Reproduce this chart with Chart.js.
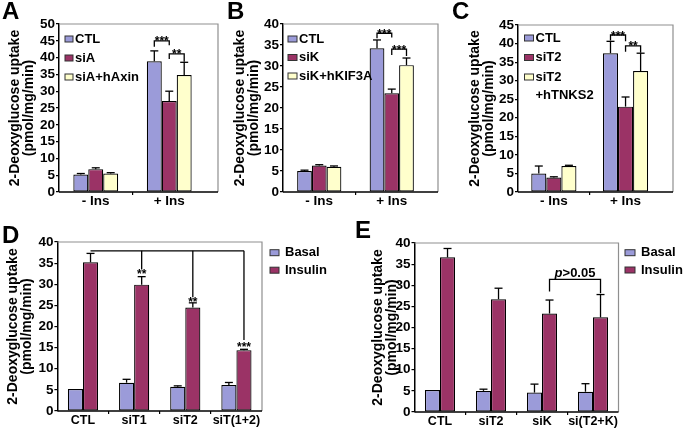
<!DOCTYPE html>
<html>
<head>
<meta charset="utf-8">
<script src="https://cdn.jsdelivr.net/npm/chart.js@4.4.0/dist/chart.umd.min.js"></script>
<style>
html, body { margin: 0; padding: 0; background: #fff; }
body { width: 685px; height: 428px; position: relative; overflow: hidden; }
canvas { position: absolute; }
</style>
</head>
<body>
<canvas id="cA" width="225" height="212" style="left:0;top:0"></canvas>
<canvas id="cB" width="225" height="212" style="left:225px;top:0"></canvas>
<canvas id="cC" width="235" height="212" style="left:450px;top:0"></canvas>
<canvas id="cD" width="340" height="216" style="left:0;top:212px"></canvas>
<canvas id="cE" width="345" height="216" style="left:340px;top:212px"></canvas>
<script>
// ---- data ----
const Y_TITLE = ['2-Deoxyglucose uptake', '(pmol/mg/min)'];
const INS_LABELS = ['- Ins', '+ Ins'];

// A
const A_ctl = [5.2, 38.9];   const A_ctl_err = [0.3, 3.1];
const A_siA = [6.8, 27.1];   const A_siA_err = [0.4, 2.9];
const A_res = [5.5, 34.8];   const A_res_err = [0.25, 3.8];
// [cat, dataset, cat, dataset, top, left end, right end, label]
const A_sig = [[1, 0, 1, 1, 45.0, 43.2, 43.7, '***'], [1, 1, 1, 2, 41.1, 39.6, 38.8, '**']];

// B
const B_ctl = [5.0, 34.2];   const B_ctl_err = [0.2, 2.0];
const B_siK = [6.3, 23.5];   const B_siK_err = [0.2, 1.0];
const B_res = [6.0, 30.2];   const B_res_err = [0.2, 1.7];
const B_sig = [[1, 0, 1, 1, 37.8, 36.6, 36.8, '***'], [1, 1, 1, 2, 34.0, 32.6, 32.4, '***']];

// C
const C_ctl = [5.0, 37.4];   const C_ctl_err = [2.0, 3.2];
const C_siT2 = [3.9, 23.0];  const C_siT2_err = [0.2, 2.6];
const C_res = [7.0, 32.6];   const C_res_err = [0.2, 4.8];
const C_sig = [[1, 0, 1, 1, 42.3, 40.8, 40.6, '***'], [1, 1, 1, 2, 39.4, 37.8, 37.5, '**']];

// D
const D_labels = ['CTL', 'siT1', 'siT2', 'siT(1+2)'];
const D_basal = [5.2, 6.7, 5.75, 6.15];    const D_basal_err = [0, 0.8, 0.2, 0.6];
const D_ins = [35.2, 29.9, 24.5, 14.4];    const D_ins_err = [2.1, 1.9, 1.1, 0.2];
const D_combTop = 37.9;
const D_combEnds = [33.5, 26.9, 16.8];
const D_stars = ['**', '**', '***'];
const D_starY = [32.9, 26.3, 15.7];

// E
const E_labels = ['CTL', 'siT2', 'siK', 'si(T2+K)'];
const E_basal = [5.2, 5.0, 4.6, 4.8];      const E_basal_err = [0, 0.4, 2.0, 1.9];
const E_ins = [36.6, 26.7, 23.3, 22.4];    const E_ins_err = [2.1, 2.6, 3.2, 5.4];
const E_sig = [[2, 1, 3, 1, 31.4, 28.5, 28.1, 'p>0.05']];

const BLUE = '#9b9bd9', RED = '#9b3366', YEL = '#ffffcc';
const FONT = "'Liberation Sans', Arial, Helvetica, sans-serif";

Chart.defaults.font.family = FONT;
Chart.defaults.color = '#000';

function seg(ctx, x1, y1, x2, y2) {
  ctx.beginPath(); ctx.moveTo(x1, y1); ctx.lineTo(x2, y2); ctx.stroke();
}

function sigText(ctx, txt, x, y) {
  ctx.fillStyle = '#000';
  ctx.textAlign = 'left';
  ctx.textBaseline = 'alphabetic';
  if (txt[0] === 'p') {
    ctx.font = 'italic bold 13px ' + FONT;
    const w1 = ctx.measureText('p').width;
    ctx.font = 'bold 13px ' + FONT;
    const w2 = ctx.measureText(txt.slice(1)).width;
    const x0 = x - (w1 + w2) / 2;
    ctx.font = 'italic bold 13px ' + FONT;
    ctx.fillText('p', x0, y - 2);
    ctx.font = 'bold 13px ' + FONT;
    ctx.fillText(txt.slice(1), x0 + w1, y - 2);
  } else {
    ctx.font = 'bold 12px ' + FONT;
    ctx.textAlign = 'center';
    ctx.fillText(txt, x, y + 4.5);
  }
}

const decor = {
  id: 'decor',
  beforeDatasetsDraw(chart, args, o) {
    const { ctx, chartArea: a } = chart;
    const r = a.right + (o.extra || 0);
    ctx.save();
    ctx.lineWidth = 1.2;
    ctx.strokeStyle = '#8f8f8f';
    ctx.beginPath(); ctx.moveTo(a.left, a.top); ctx.lineTo(r, a.top); ctx.lineTo(r, a.bottom); ctx.stroke();
    ctx.strokeStyle = '#000';
    ctx.lineWidth = 1.5;
    seg(ctx, a.left, a.bottom, r, a.bottom);
    ctx.restore();
  },
  afterDatasetsDraw(chart, args, o) {
    const { ctx, chartArea: a } = chart;
    const ys = chart.scales.y;
    ctx.save();
    ctx.strokeStyle = '#000';
    ctx.lineWidth = 1.3;

    // error bars (upper only)
    chart.data.datasets.forEach((ds, i) => {
      const meta = chart.getDatasetMeta(i);
      o.errors[i].forEach((e, j) => {
        if (!e) return;
        const b = meta.data[j];
        const y1 = ys.getPixelForValue(ds.data[j] + e);
        seg(ctx, b.x, b.y, b.x, y1);
        seg(ctx, b.x - 4, y1, b.x + 4, y1);
      });
    });

    // brackets
    (o.brackets || []).forEach(([cl, dl, cr, dr, top, el, er, txt]) => {
      const xl = chart.getDatasetMeta(dl).data[cl].x;
      const xr = chart.getDatasetMeta(dr).data[cr].x;
      const yt = ys.getPixelForValue(top);
      ctx.beginPath();
      ctx.moveTo(xl, ys.getPixelForValue(el));
      ctx.lineTo(xl, yt);
      ctx.lineTo(xr, yt);
      ctx.lineTo(xr, ys.getPixelForValue(er));
      ctx.stroke();
      sigText(ctx, txt, (xl + xr) / 2, yt);
    });

    // comb (panel D)
    if (o.comb) {
      const c = o.comb;
      const m = chart.getDatasetMeta(c.ds);
      const yt = ys.getPixelForValue(c.top);
      const xs = c.cats.map(k => m.data[k].x);
      seg(ctx, m.data[c.from].x, yt, xs[xs.length - 1], yt);
      xs.forEach((x, k) => {
        seg(ctx, x, yt, x, ys.getPixelForValue(c.ends[k]));
        ctx.font = 'bold 12px ' + FONT;
        ctx.fillStyle = '#000';
        ctx.textAlign = 'center';
        ctx.textBaseline = 'alphabetic';
        ctx.fillText(c.stars[k], x, ys.getPixelForValue(c.starY[k]) + 6.5);
      });
    }

    // legend
    const L = o.legend;
    const bx = L.anchor === 'right' ? a.right + L.x : a.left + L.x;
    let y = a.top + L.y;
    ctx.font = 'bold 13px ' + FONT;
    ctx.textAlign = 'left';
    ctx.textBaseline = 'middle';
    ctx.lineWidth = 1;
    chart.data.datasets.forEach(ds => {
      const lines = ds.label.split('\n');
      ctx.fillStyle = ds.backgroundColor;
      ctx.fillRect(bx, y - 3, L.bw, 6);
      ctx.strokeStyle = '#333';
      ctx.strokeRect(bx, y - 3, L.bw, 6);
      ctx.fillStyle = '#000';
      lines.forEach((t, k) => ctx.fillText(t, bx + L.tx, y + k * L.line));
      y += L.step + (lines.length - 1) * L.line;
    });

    // panel letter
    ctx.font = 'bold 24px ' + FONT;
    ctx.textBaseline = 'alphabetic';
    ctx.fillStyle = '#000';
    ctx.fillText(o.letter[0], o.letter[1], o.letter[2]);
    ctx.restore();
  }
};

function makeChart(id, labels, sets, p) {
  return new Chart(document.getElementById(id), {
    type: 'bar',
    data: {
      labels: labels,
      datasets: sets.map(s => ({
        label: s.label,
        data: s.data,
        backgroundColor: s.color,
        borderColor: '#000',
        borderWidth: 1.2,
        borderSkipped: false,
        categoryPercentage: p.cat,
        barPercentage: 1
      }))
    },
    options: {
      responsive: false,
      animation: false,
      events: [],
      layout: { padding: p.pad },
      plugins: {
        legend: { display: false },
        tooltip: { enabled: false },
        decor: {
          errors: sets.map(s => s.err),
          brackets: p.brackets,
          comb: p.comb,
          legend: p.legend,
          letter: p.letter,
          extra: p.extra
        }
      },
      scales: {
        x: {
          grid: {
            drawOnChartArea: false,
            tickLength: 3,
            lineWidth: 1.2,
            color: c => (c.index > 0 ? '#000' : 'rgba(0,0,0,0)')
          },
          border: { display: false },
          ticks: { font: { size: p.xfs, weight: 'bold' }, padding: p.xpad, color: '#000', maxRotation: 0, autoSkip: false },
          afterFit: s => { s.height = p.xh; }
        },
        y: {
          min: 0,
          max: p.max,
          ticks: { stepSize: 5, autoSkip: false, font: { size: 13.5, weight: 'bold' }, padding: 1, color: '#000' },
          grid: { drawOnChartArea: false, tickLength: 3, lineWidth: 1.2, color: '#000' },
          border: { display: true, color: '#000', width: 1.5 },
          title: { display: true, text: Y_TITLE, font: { size: 14, weight: 'bold', lineHeight: 1.05 }, padding: 0, color: '#000' },
          afterFit: s => { s.width = p.yw; }
        }
      }
    },
    plugins: [decor]
  });
}

makeChart('cA', INS_LABELS, [
  { label: 'CTL', data: A_ctl, err: A_ctl_err, color: BLUE },
  { label: 'siA', data: A_siA, err: A_siA_err, color: RED },
  { label: 'siA+hAxin', data: A_res, err: A_res_err, color: YEL }
], { max: 50, cat: 0.61, pad: { left: 7.5, top: 24, right: 19, bottom: 0 }, yw: 51.5, xh: 20, xfs: 13.5, xpad: -2, extra: 12,
     brackets: A_sig, letter: ['A', 2, 19],
     legend: { anchor: 'left', x: 6, y: 15, step: 19, line: 18, bw: 8, tx: 10 } });

makeChart('cB', INS_LABELS, [
  { label: 'CTL', data: B_ctl, err: B_ctl_err, color: BLUE },
  { label: 'siK', data: B_siK, err: B_siK_err, color: RED },
  { label: 'siK+hKIF3A', data: B_res, err: B_res_err, color: YEL }
], { max: 40, cat: 0.61, pad: { left: 7.5, top: 24, right: 22, bottom: 0 }, yw: 50.5, xh: 20, xfs: 13.5, xpad: -2, extra: 10,
     brackets: B_sig, letter: ['B', 2, 19],
     legend: { anchor: 'left', x: 5, y: 15, step: 18.5, line: 18, bw: 9, tx: 11 } });

makeChart('cC', INS_LABELS, [
  { label: 'CTL', data: C_ctl, err: C_ctl_err, color: BLUE },
  { label: 'siT2', data: C_siT2, err: C_siT2_err, color: RED },
  { label: 'siT2\n+hTNKS2', data: C_res, err: C_res_err, color: YEL }
], { max: 45, cat: 0.63, pad: { left: 17.5, top: 25, right: 23.6, bottom: 0 }, yw: 50.5, xh: 20, xfs: 13.5, xpad: -2, extra: 11.6,
     brackets: C_sig, letter: ['C', 2, 19],
     legend: { anchor: 'left', x: 6.5, y: 13, step: 19.5, line: 18, bw: 9, tx: 11 } });

makeChart('cD', D_labels, [
  { label: 'Basal', data: D_basal, err: D_basal_err, color: BLUE },
  { label: 'Insulin', data: D_ins, err: D_ins_err, color: RED }
], { max: 40, cat: 0.59, pad: { left: 5.5, top: 30, right: 78, bottom: 0 }, yw: 51.9, xh: 17, xfs: 12.5, xpad: -1, extra: 0,
     comb: { ds: 1, from: 0, cats: [1, 2, 3], top: D_combTop, ends: D_combEnds, stars: D_stars, starY: D_starY },
     letter: ['D', 2, 31],
     legend: { anchor: 'right', x: 8, y: 10.7, step: 17.5, line: 18, bw: 9, tx: 15 } });

makeChart('cE', E_labels, [
  { label: 'Basal', data: E_basal, err: E_basal_err, color: BLUE },
  { label: 'Insulin', data: E_ins, err: E_ins_err, color: RED }
], { max: 40, cat: 0.59, pad: { left: 30.5, top: 31, right: 66.5, bottom: 0 }, yw: 44, xh: 16, xfs: 12.5, xpad: -1, extra: 0,
     brackets: E_sig, letter: ['E', 15, 26],
     legend: { anchor: 'right', x: 6.5, y: 9.7, step: 17.3, line: 18, bw: 10, tx: 16 } });
</script>
</body>
</html>
